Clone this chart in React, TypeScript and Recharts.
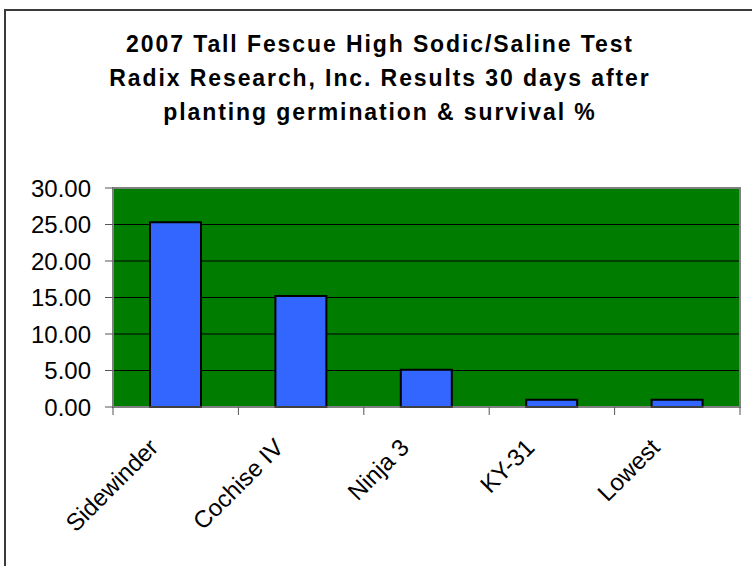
import React from "react";
import {
  BarChart,
  Bar,
  XAxis,
  YAxis,
  CartesianGrid,
  ReferenceArea,
} from "recharts";

const varieties = ["Sidewinder", "Cochise IV", "Ninja 3", "KY-31", "Lowest"];
const survival = [25.3, 15.2, 5.1, 1.0, 1.0];
const yTicks = [0, 5, 10, 15, 20, 25, 30];
const titleLines = [
  "2007 Tall Fescue High Sodic/Saline Test",
  "Radix Research, Inc. Results 30 days after",
  "planting germination & survival %",
];

const data = varieties.map((name, i) => ({ name, value: survival[i] }));

const FONT = "'Liberation Sans', Arial, Helvetica, sans-serif";

// Excel-style category label: rotated -45deg, ticks sit on category boundaries
const CategoryTick = (props: any) => {
  const { x, y, payload, index, visibleTicksCount } = props;
  const half = payload?.offset ?? 0;
  const isLast = index === visibleTicksCount - 1;
  const tx = x - 16;
  const ty = y + 34;
  return (
    <g>
      <line x1={x - half} x2={x - half} y1={y - 8} y2={y} stroke="#555" />
      {isLast && <line x1={x + half} x2={x + half} y1={y - 8} y2={y} stroke="#555" />}
      <text
        x={tx}
        y={ty}
        textAnchor="end"
        transform={`rotate(-45, ${tx}, ${ty})`}
        fontFamily={FONT}
        fontSize={24}
        fill="#000"
      >
        {payload.value}
      </text>
    </g>
  );
};

export default function App() {
  return (
    <div
      style={{
        position: "fixed",
        left: 0,
        top: 0,
        width: 752,
        height: 566,
        overflow: "hidden",
        background: "#fff",
      }}
    >
      {/* outer chart frame (runs off the bottom/right of the picture) */}
      <div
        style={{
          position: "absolute",
          left: 4,
          top: 9,
          width: 800,
          height: 600,
          border: "2px solid #3a3a3a",
        }}
      />
      <div
        style={{
          position: "absolute",
          left: 0,
          top: 27,
          width: 760,
          textAlign: "center",
          fontFamily: FONT,
          fontWeight: "bold",
          fontSize: 23,
          letterSpacing: 1.9,
          lineHeight: "34px",
          color: "#000",
        }}
      >
        {titleLines.map((line) => (
          <div key={line}>{line}</div>
        ))}
      </div>
      <div style={{ position: "absolute", left: 0, top: 0 }}>
        <BarChart
          width={752}
          height={566}
          data={data}
          margin={{ top: 188, right: 12, left: 5, bottom: 59 }}
          barSize={51}
        >
          <CartesianGrid
            vertical={false}
            stroke="#000"
            strokeWidth={1}
            fill="#007d00"
            fillOpacity={1}
          />
          <ReferenceArea y1={0} y2={30} fill="none" stroke="#808080" strokeWidth={2} ifOverflow="visible" />
          <XAxis
            dataKey="name"
            interval={0}
            height={100}
            tickSize={8}
            tickMargin={0}
            tickLine={false}
            stroke="#808080"
            tick={<CategoryTick />}
          />
          <YAxis
            domain={[0, 30]}
            ticks={yTicks}
            width={108}
            tickSize={8}
            tickMargin={14}
            stroke="#808080"
            tickLine={{ stroke: "#555" }}
            tick={{ fill: "#000", fontSize: 24, fontFamily: FONT }}
            tickFormatter={(v: number) => v.toFixed(2)}
          />
          <Bar
            dataKey="value"
            fill="#3366ff"
            stroke="#000"
            strokeWidth={2}
            isAnimationActive={false}
          />
        </BarChart>
      </div>
    </div>
  );
}
